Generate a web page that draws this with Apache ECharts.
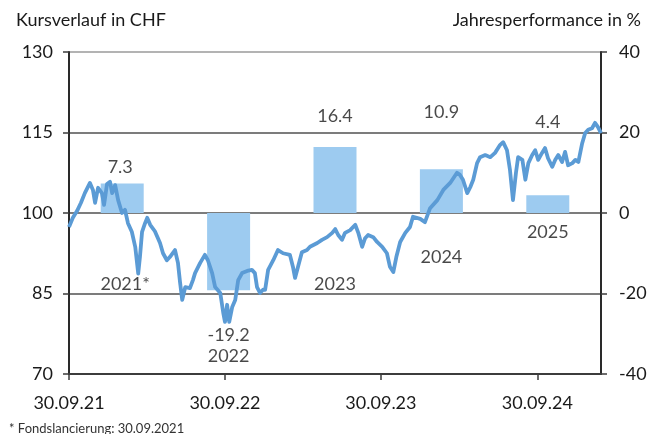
<!DOCTYPE html>
<html>
<head>
<meta charset="utf-8">
<script src="https://cdn.jsdelivr.net/npm/echarts@6/dist/echarts.min.js"></script>
<style>
  html, body { margin: 0; padding: 0; background: #fff; }
  #chart { width: 663px; height: 434px; }
</style>
</head>
<body>
<div id="chart"></div>
<script>
// Yearly performance bars (right axis, %)
const categories = ['2021*', '2022', '2023', '2024', '2025'];
const yearlyPerformance = [7.3, -19.2, 16.4, 10.9, 4.4];

// Price history in CHF (left axis)
const priceDates = [
  '2021-09-30','2021-10-09','2021-10-19','2021-10-28','2021-11-06','2021-11-18','2021-11-25','2021-11-30',
  '2021-12-07','2021-12-16','2021-12-21','2021-12-28','2022-01-04','2022-01-09','2022-01-16','2022-01-23',
  '2022-02-01','2022-02-08','2022-02-15','2022-02-24','2022-03-04','2022-03-11','2022-03-15','2022-03-20',
  '2022-03-27','2022-04-01','2022-04-08','2022-04-19','2022-05-01','2022-05-08','2022-05-17','2022-05-24',
  '2022-06-05','2022-06-12','2022-06-17','2022-06-22','2022-06-29','2022-07-10','2022-07-17','2022-07-22',
  '2022-08-03','2022-08-14','2022-08-21','2022-08-31','2022-09-07','2022-09-19','2022-09-26','2022-09-30',
  '2022-10-05','2022-10-10','2022-10-17','2022-10-24','2022-10-31','2022-11-09','2022-11-21','2022-12-02',
  '2022-12-09','2022-12-14','2022-12-21','2022-12-28','2023-01-02','2023-01-09','2023-01-21','2023-02-01',
  '2023-02-13','2023-03-01','2023-03-08','2023-03-13','2023-03-20','2023-03-29','2023-04-10','2023-04-17',
  '2023-05-04','2023-05-15','2023-05-27','2023-06-08','2023-06-15','2023-06-22','2023-07-01','2023-07-08',
  '2023-07-20','2023-08-01','2023-08-08','2023-08-17','2023-08-24','2023-08-31','2023-09-12','2023-09-21',
  '2023-10-03','2023-10-14','2023-10-21','2023-10-29','2023-11-05','2023-11-14','2023-11-26','2023-12-07',
  '2023-12-14','2023-12-31','2024-01-11','2024-01-23','2024-02-09','2024-02-23','2024-03-10','2024-03-26',
  '2024-04-02','2024-04-09','2024-04-19','2024-04-26','2024-05-03','2024-05-12','2024-05-19','2024-05-31',
  '2024-06-12','2024-06-23','2024-07-05','2024-07-12','2024-07-21','2024-07-28','2024-08-04','2024-08-11',
  '2024-08-16','2024-08-26','2024-09-02','2024-09-09','2024-09-18','2024-09-25','2024-10-02','2024-10-11',
  '2024-10-18','2024-10-25','2024-11-04','2024-11-11','2024-11-18','2024-11-27','2024-12-04','2024-12-11',
  '2024-12-21','2024-12-28','2025-01-04','2025-01-13','2025-01-20','2025-01-27','2025-02-05','2025-02-12',
  '2025-02-19','2025-02-26'
];
const priceValues = [
  97.4, 99.1, 100.4, 101.9, 103.7, 105.6, 104.3, 101.9,
  104.7, 103.7, 101.5, 105.4, 105.8, 103.7, 105.2, 102.4,
  100.0, 100.6, 98.1, 96.5, 93.7, 88.7, 91.8, 96.5,
  98.1, 99.1, 97.8, 96.6, 94.4, 92.5, 91.2, 91.8,
  93.1, 90.7, 87.0, 83.8, 86.2, 86.0, 87.5, 88.8,
  90.7, 92.2, 91.2, 88.8, 86.2, 85.1, 81.4, 79.7,
  82.9, 79.7, 82.5, 83.8, 87.5, 88.8, 89.2, 89.4,
  88.8, 86.2, 85.1, 85.7, 85.7, 89.4, 91.2, 93.1,
  92.5, 92.2, 90.0, 87.9, 90.0, 92.7, 93.1, 93.7,
  94.4, 95.0, 95.5, 96.3, 97.0, 95.9, 95.0, 96.3,
  96.8, 97.8, 96.3, 93.7, 95.3, 95.9, 95.5, 94.6,
  93.7, 92.5, 90.0, 89.0, 91.8, 94.6, 96.3, 97.4,
  99.3, 98.9, 98.3, 100.9, 102.4, 104.3, 105.6, 107.5,
  107.1, 106.2, 103.7, 104.8, 106.2, 109.3, 110.4, 110.8,
  110.4, 111.2, 112.7, 113.2, 111.7, 108.0, 102.4, 107.5,
  110.4, 109.9, 106.2, 109.3, 110.8, 111.7, 109.9, 111.2,
  112.1, 110.2, 108.6, 109.9, 110.8, 109.5, 111.4, 108.9,
  109.3, 109.9, 109.5, 113.0, 114.9, 115.5, 115.8, 116.8,
  116.0, 114.9
];

// Axis ticks
const priceTicks = [70, 85, 100, 115, 130];
const dateTicks = ['2021-09-30', '2022-09-30', '2023-09-30', '2024-09-30'];

// Label placement (pixel offsets) so the annotations clear the price line
const valueLabelOffsets = [[-2, -16], [0, 45], [0, -31], [0, -57], [0, -73]];
const yearLabelOffsets = [[3, 71], [0, 143], [0, 71], [0, 44], [0, 19]];

const FONT = 'Lato, "Noto Sans", sans-serif';
const TEXT = '#1a1a1a';

const chart = echarts.init(document.getElementById('chart'), null, { renderer: 'canvas' });

const toTs = s => { const [y, m, d] = s.split('-').map(Number); return Date.UTC(y, m - 1, d); };
const pad = n => (n < 10 ? '0' : '') + n;
const fmtDate = ts => { const d = new Date(ts); return pad(d.getUTCDate()) + '.' + pad(d.getUTCMonth() + 1) + '.' + String(d.getUTCFullYear()).slice(2); };

const option = {
  animation: false,
  textStyle: { fontFamily: FONT },
  grid: { left: 69, right: 62, top: 52, bottom: 60, containLabel: false },
  title: [
    { text: 'Kursverlauf in CHF', left: 11, top: 6, textStyle: { fontFamily: FONT, fontSize: 18, fontWeight: 'normal', color: TEXT } },
    { text: 'Jahresperformance in %', right: 17, top: 6, textStyle: { fontFamily: FONT, fontSize: 18, fontWeight: 'normal', color: TEXT } },
    { text: '* Fondslancierung: 30.09.2021', left: 4, top: 417, textStyle: { fontFamily: FONT, fontSize: 13, fontWeight: 'normal', color: '#333' } }
  ],
  xAxis: [
    {
      // dates as UTC timestamps on a linear axis
      type: 'value',
      min: toTs('2021-09-30'),
      max: toTs('2025-02-26'),
      axisLine: { show: true, onZero: false, lineStyle: { color: '#3c3c3c', width: 2 } },
      axisTick: { show: true, inside: false, length: 6, customValues: dateTicks.map(toTs), lineStyle: { color: '#3c3c3c', width: 1.5 } },
      axisLabel: { customValues: dateTicks.map(toTs), formatter: v => fmtDate(v), fontFamily: FONT, fontSize: 18, color: TEXT, margin: 20 },
      splitLine: { show: false }
    },
    {
      type: 'category',
      data: categories,
      show: false,
      boundaryGap: true
    }
  ],
  yAxis: [
    {
      type: 'value',
      position: 'left',
      min: 70,
      max: 130,
      axisLine: { show: true, onZero: false, lineStyle: { color: '#2a2a2a', width: 2 } },
      axisTick: { show: true, inside: false, length: 6, customValues: priceTicks, lineStyle: { color: '#3c3c3c', width: 1.5 } },
      axisLabel: { customValues: priceTicks, fontFamily: FONT, fontSize: 18, color: TEXT, margin: 16 },
      splitLine: { show: false }
    },
    {
      type: 'value',
      position: 'right',
      min: -40,
      max: 40,
      interval: 20,
      axisLine: { show: true, onZero: false, lineStyle: { color: '#2a2a2a', width: 2 } },
      axisTick: { show: true, inside: false, length: 6, lineStyle: { color: '#3c3c3c', width: 1.5 } },
      axisLabel: { fontFamily: FONT, fontSize: 18, color: TEXT, margin: 18 },
      splitLine: {
        show: true,
        lineStyle: { color: ['#3c3c3c', '#505050', '#505050', '#505050', '#9a9a9a'], width: 1.6 }
      }
    }
  ],
  series: [
    {
      name: 'Jahresperformance',
      type: 'bar',
      xAxisIndex: 1,
      yAxisIndex: 1,
      data: yearlyPerformance,
      barWidth: 43,
      itemStyle: { color: '#9dcbf0' },
      z: 2
    },
    {
      name: 'Kurs',
      type: 'line',
      xAxisIndex: 0,
      yAxisIndex: 0,
      data: priceDates.map((d, i) => [toTs(d), priceValues[i]]),
      showSymbol: false,
      symbol: 'none',
      lineStyle: { color: '#5b9bd5', width: 3.8, join: 'round' },
      z: 3
    },
    {
      name: 'Werte',
      type: 'scatter',
      xAxisIndex: 1,
      yAxisIndex: 1,
      symbolSize: 0,
      silent: true,
      z: 5,
      data: yearlyPerformance.map((v, i) => ({
        value: [i, v],
        label: { offset: valueLabelOffsets[i] }
      })),
      label: {
        show: true,
        position: 'inside',
        formatter: p => String(p.value[1]),
        fontFamily: FONT, fontSize: 18, color: TEXT
      }
    },
    {
      name: 'Jahre',
      type: 'scatter',
      xAxisIndex: 1,
      yAxisIndex: 1,
      symbolSize: 0,
      silent: true,
      z: 5,
      data: categories.map((c, i) => ({
        value: [i, 0],
        label: { offset: yearLabelOffsets[i] }
      })),
      label: {
        show: true,
        position: 'inside',
        formatter: p => categories[p.value[0]],
        fontFamily: FONT, fontSize: 18, color: TEXT
      }
    }
  ]
};

chart.setOption(option);
</script>
</body>
</html>
